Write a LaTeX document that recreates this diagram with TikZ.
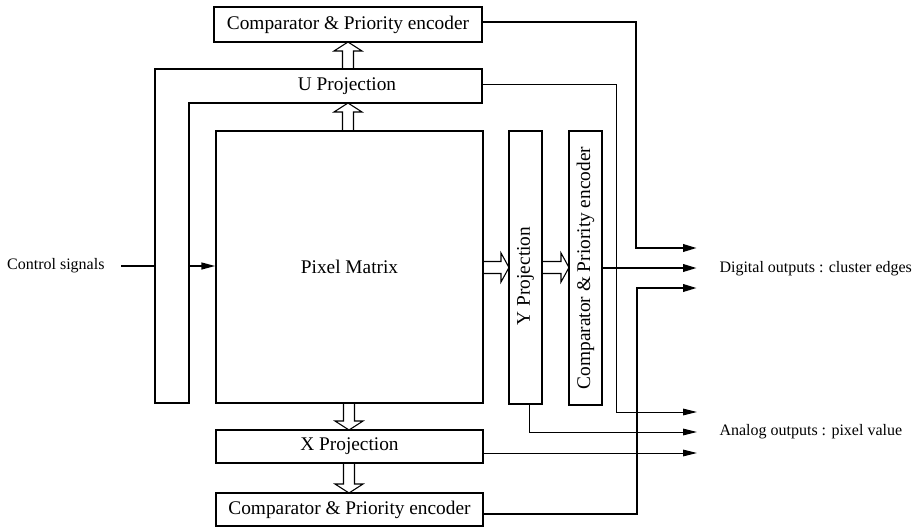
\documentclass[tikz,border=0pt]{standalone}
\usepackage{fontspec}
\setmainfont{Liberation Serif}
\usetikzlibrary{arrows.meta}

\tikzset{every picture/.style={line width=0.75pt}}
\tikzset{
  blk/.style={draw, line width=0.8pt, inner sep=0pt},
  boxtxt/.style={font=\fontsize{14.5}{17}\selectfont, inner sep=0pt},
  sidetxt/.style={font=\fontsize{12}{14}\selectfont, inner sep=0pt},
  thinout/.style={line width=0.75pt, -{Triangle[length=10.5pt,width=5pt]}},
  thickout/.style={line width=1.9pt, -{Triangle[length=10.5pt,width=5.5pt]}},
  ctrlarrow/.style={line width=1.5pt, -{Triangle[length=10.5pt,width=5pt]}},
  hollow/.style={line width=0.8pt},
}

\begin{document}
\begin{tikzpicture}[x=0.75pt,y=0.75pt,yscale=-1,xscale=1]
		\useasboundingbox (0,0) rectangle (913,529);

		%Shape: Rectangle [id:cmpU] 
		\node[blk, minimum width=201pt, minimum height=26.25pt] (cmpU) at (348,24.5) {};
		%Shape: Rectangle [id:matrix] 
		\node[blk, minimum width=200.25pt, minimum height=204pt] (matrix) at (349.5,267) {};
		%Shape: Rectangle [id:yproj] 
		\node[blk, minimum width=24.75pt, minimum height=204.75pt] (yproj) at (525.5,267.5) {};
		%Shape: Rectangle [id:cmpY] 
		\node[blk, minimum width=24.75pt, minimum height=205.5pt] (cmpY) at (585.5,268) {};
		%Shape: Rectangle [id:xproj] 
		\node[blk, minimum width=200.25pt, minimum height=24.75pt] (xproj) at (349.5,446.5) {};
		%Shape: Rectangle [id:cmpX] 
		\node[blk, minimum width=200.25pt, minimum height=24.75pt] (cmpX) at (349.5,509.5) {};

		%Shape: U projection and control bus 
		\draw[line width=0.8pt] (155,403) -- (155,69) -- (482,69) -- (482,103) -- (189,103) -- (189,403) -- cycle ;

		%Shape: Hollow arrows (vertical) 
		\draw[hollow] (342.5,69) -- (342.5,51) -- (334,51) -- (348,42) -- (362,51) -- (353.5,51) -- (353.5,69) ;
		\draw[hollow] (342.5,131) -- (342.5,112) -- (334,112) -- (348,103) -- (362,112) -- (353.5,112) -- (353.5,131) ;
		\draw[hollow] (343.5,403) -- (343.5,421) -- (335,421) -- (349,430) -- (363,421) -- (354.5,421) -- (354.5,403) ;
		\draw[hollow] (343.5,463) -- (343.5,484) -- (335,484) -- (349,493) -- (363,484) -- (354.5,484) -- (354.5,463) ;
		%Shape: Hollow arrows (horizontal) 
		\draw[hollow] (483,261.5) -- (501,261.5) -- (501,253) -- (509,267.5) -- (501,282) -- (501,273.5) -- (483,273.5) ;
		\draw[hollow] (542,261.5) -- (561,261.5) -- (561,253) -- (569,267.5) -- (561,282) -- (561,273.5) -- (542,273.5) ;

		% Text Node
		\node[boxtxt] (cmpUlbl) at (cmpU.center) {Comparator \& Priority encoder};
		% Text Node
		\node[boxtxt] (ulbl) at (347,86) {U Projection};
		% Text Node
		\node[boxtxt] (mlbl) at (matrix.center) {Pixel Matrix};
		% Text Node
		\node[boxtxt, rotate=90] (ylbl) at (525.5,276) {Y Projection};
		% Text Node
		\node[boxtxt, rotate=90] (cmpYlbl) at (cmpY.center) {Comparator \& Priority encoder};
		% Text Node
		\node[boxtxt] (xlbl) at (xproj.center) {X Projection};
		% Text Node
		\node[boxtxt] (cmpXlbl) at (cmpX.center) {Comparator \& Priority encoder};

		% Control signals
		\node[sidetxt, anchor=east, inner xsep=12pt] (ctrl) at (121,266) {Control signals};
		\coordinate (busL) at (155,266);
		\coordinate (busR) at (189,266);
		\draw[line width=1.9pt] (ctrl.east) -- (busL);
		\draw[ctrlarrow] (busR) -- (matrix.west |- busR);

		% Outputs
		\coordinate (dig1) at (697,248);
		\coordinate (dig2) at (697,268);
		\coordinate (dig3) at (697,288);
		\coordinate (ana1) at (697,412);
		\coordinate (ana2) at (697,432);
		\coordinate (ana3) at (697,453);
		\coordinate (uR) at (482,84);

		\draw[thickout] ([yshift=-1.9pt]cmpU.east) -| (636,248) -- (dig1);
		\draw[thickout] (cmpY.east) -- (dig2);
		\draw[thickout] ([yshift=3.5pt]cmpX.east) -| (637,288) -- (dig3);

		\draw[thinout] (uR) -| (616,412) -- (ana1);
		\draw[thinout] ([xshift=3pt]yproj.south) |- (ana2);
		\draw[thinout] (xproj.east |- ana3) -- (ana3);

		% Text Node
		\node[sidetxt, anchor=west] (diglbl) at (719,269) {Digital outputs : cluster edges};
		% Text Node
		\node[sidetxt, anchor=west] (analbl) at (719,432) {Analog outputs : pixel value};

\end{tikzpicture}
\end{document}
